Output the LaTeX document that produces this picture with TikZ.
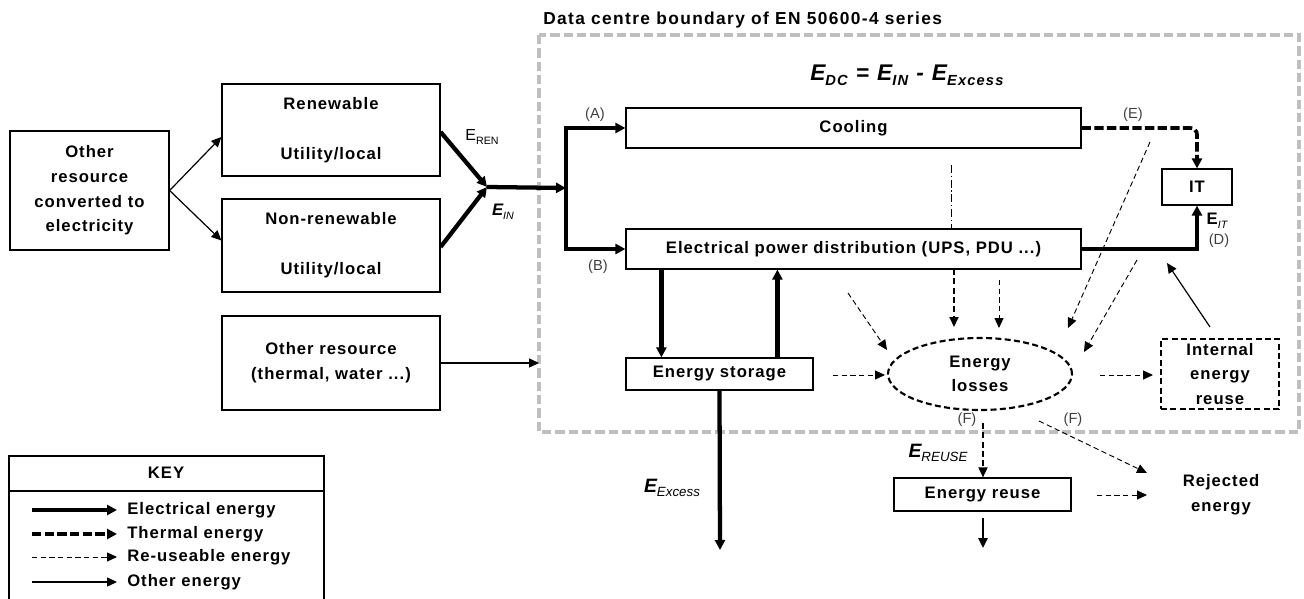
\documentclass[tikz,border=0pt]{standalone}
\usepackage{fontspec}
\setmainfont{Liberation Sans}[LetterSpace=6]
\newfontfamily\plainsans{Liberation Sans}
\newfontfamily\titlesans{Liberation Sans}[LetterSpace=8]
\usetikzlibrary{arrows.meta,calc,shapes.geometric}
\newcommand\lsub[1]{\raisebox{-0.45ex}{\fontsize{8}{9}\selectfont #1}}
\newcommand\msub[1]{\raisebox{-0.45ex}{\fontsize{10}{11}\selectfont #1}}
\newcommand\bsub[1]{\raisebox{-0.45ex}{\fontsize{11}{12}\selectfont #1}}
\begin{document}
\begin{tikzpicture}[x=0.75pt,y=-0.75pt,
  box/.style={draw, line width=0.9pt, inner sep=0pt, font=\fontsize{12.5}{18.5}\selectfont\bfseries, align=center},
  txt/.style={font=\fontsize{12.5}{18.5}\selectfont\bfseries, align=center, inner sep=0pt},
  bigtip/.style={-{Triangle[length=7.5pt,width=7.5pt]}},
  smalltip/.style={-{Triangle[length=7.5pt,width=6.8pt]}},
  elec/.style={line width=3.2pt, bigtip},
  therm/.style={line width=2.8pt, dash pattern=on 7pt off 2.5pt, bigtip},
  reus/.style={line width=0.7pt, dash pattern=on 4pt off 2.5pt, smalltip},
  reusm/.style={line width=1.2pt, dash pattern=on 4.5pt off 2.5pt, smalltip},
  reusl/.style={line width=0.7pt, dash pattern=on 6pt off 2pt on 1pt off 2pt},
  oth/.style={line width=0.9pt, smalltip},
  bnd/.style={draw=black!25, line width=3pt, dash pattern=on 7pt off 3pt},
  lbl/.style={font=\plainsans\fontsize{11}{12}\selectfont, text=black!75, inner sep=0pt},
  dbox/.style={box, line width=1.6pt, dash pattern=on 4.5pt off 2.5pt},
]
\useasboundingbox (0,0) rectangle (1304,599);

% data centre boundary
\draw[bnd] (539,35) rectangle (1299,432);
\node[anchor=west, inner sep=0pt, font=\titlesans\fontsize{13}{14}\selectfont\bfseries] (title) at (543,20) {Data centre boundary of EN 50600-4 series};
\node[anchor=west, inner sep=0pt, font=\titlesans\fontsize{17}{18}\selectfont\bfseries\itshape] (edc) at (810,75) {E\bsub{DC} = E\bsub{IN} - E\bsub{Excess}};

% boxes
\node[box, minimum width=119.25pt, minimum height=89.25pt] (other) at (89.5,190.5) {Other\\resource\\converted to\\electricity};
\node[box, minimum width=163.5pt, minimum height=69pt] (ren) at (331,130) {Renewable\\[19pt]Utility/local};
\node[box, minimum width=163.5pt, minimum height=69.75pt] (nonren) at (331,245.5) {Non-renewable\\[19pt]Utility/local};
\node[box, minimum width=163.5pt, minimum height=70.5pt] (othres) at (331,363) {Other resource\\(thermal, water ...)};
\node[box, minimum width=341.25pt, minimum height=30pt] (cool) at (853.5,128) {Cooling};
\node[box, minimum width=341.25pt, minimum height=30pt] (epd) at (853.5,249) {Electrical power distribution (UPS, PDU ...)};
\node[box, minimum width=52.5pt, minimum height=27pt] (it) at (1197,187) {IT};
\node[box, minimum width=140.25pt, minimum height=24pt] (stor) at (719.5,374) {Energy storage};
\node[dbox, ellipse, minimum width=138pt, minimum height=54pt] (loss) at (980,374) {Energy\\losses};
\node[dbox, minimum width=88.5pt, minimum height=52.5pt] (ier) at (1220,374) {Internal\\energy\\reuse};
\node[box, minimum width=132.75pt, minimum height=24.75pt] (reuse) at (982.5,494.5) {Energy reuse};
\node[txt] (rej) at (1221,495) {Rejected\\energy};

% coordinates
\coordinate (J) at (487,187);
\coordinate (Bp) at (566,188);
\coordinate (bin) at (539,363);
\coordinate (exc) at (720,550);
\coordinate (v1a) at (951,165);
\coordinate (v2a) at (954,269);
\coordinate (v2b) at (954,327);
\coordinate (v3a) at (999,280);
\coordinate (v3b) at (999,328);
\coordinate (d1a) at (1150,142);
\coordinate (d1b) at (1068,328);
\coordinate (d2a) at (1137,260);
\coordinate (d2b) at (1084,352);
\coordinate (o1a) at (1210,327);
\coordinate (o1b) at (1167,263);
\coordinate (d3a) at (848,293);
\coordinate (d3b) at (887,350);
\coordinate (h1a) at (833,375);
\coordinate (h1b) at (885,375);
\coordinate (h2a) at (1100,375);
\coordinate (h2b) at (1153,375);
\coordinate (f1a) at (983,423);
\coordinate (f2a) at (1039,421);
\coordinate (f2b) at (1147,473);
\coordinate (rja) at (1097,495);
\coordinate (rjb) at (1147,495);
\coordinate (rda) at (983,518);
\coordinate (rdb) at (983,548);

% connectors
\draw[oth] (other.east) -- ($(ren.west)+(0,7)$);
\draw[oth] (other.east) -- ($(nonren.west)+(0,-5)$);
\draw[elec] ($(ren.east)+(0,2)$) -- (J);
\draw[elec] ($(nonren.east)+(0,1.5)$) -- (J);
\draw[elec] (J) -- (Bp);
\draw[elec] (Bp) |- (cool.west);
\draw[elec] (Bp) |- (epd.west);
\draw[oth] (othres.east) -- (bin);
\draw[therm, rounded corners=5pt] (cool.east) -| (it.north);
\draw[elec] (epd.east) -| (it.south);
\draw[elec] ($(epd.south west)+(36,0)$) -- ($(stor.north west)+(36,0)$);
\draw[elec] ($(stor.north west)+(152,0)$) -- ($(epd.south west)+(152,0)$);
\draw[elec] (stor.south) -- (exc);
\draw[reusl] (v1a) -- (v1a |- epd.north);
\draw[reusm] (v2a) -- (v2b);
\draw[reus] (v3a) -- (v3b);
\draw[reus] (d1a) -- (d1b);
\draw[reus] (d2a) -- (d2b);
\draw[oth] (o1a) -- (o1b);
\draw[reus] (d3a) -- (d3b);
\draw[reus] (h1a) -- (h1b);
\draw[reus] (h2a) -- (h2b);
\draw[reusm] (f1a) -- (f1a |- reuse.north);
\draw[reus] (f2a) -- (f2b);
\draw[reus] (rja) -- (rjb);
\draw[line width=1.8pt, smalltip] (rda) -- (rdb);

% labels
\node[lbl] (lA) at (595,115) {(A)};
\node[lbl] (lB) at (598,267) {(B)};
\node[lbl] (lE) at (1133,115) {(E)};
\node[lbl] (lD) at (1219,241) {(D)};
\node[lbl] (lF1) at (967,420) {(F)};
\node[lbl] (lF2) at (1073,420) {(F)};
\node[inner sep=0pt, font=\plainsans\fontsize{12}{13}\selectfont] (eren) at (482,137) {E\lsub{REN}};
\node[inner sep=0pt, font=\plainsans\fontsize{12.5}{13}\selectfont\bfseries\itshape] (ein) at (503,212) {E\lsub{\mdseries IN}};
\node[inner sep=0pt, font=\plainsans\fontsize{12.5}{13}\selectfont\bfseries] (eit) at (1217,221) {E\lsub{\mdseries\itshape IT}};
\node[inner sep=0pt, font=\plainsans\fontsize{14.5}{15}\selectfont\bfseries\itshape] (ereuse) at (938,453) {E\msub{\mdseries REUSE}};
\node[inner sep=0pt, font=\plainsans\fontsize{14.5}{15}\selectfont\bfseries\itshape] (eexc) at (672,488) {E\msub{\mdseries Excess}};

% key
\draw[line width=0.9pt] (9,599) -- (9,456) -- (324,456) -- (324,599);
\draw[line width=0.9pt] (9,491) -- (324,491);
\node[txt] (keyt) at (166,473) {KEY};
\node[txt, anchor=west] (k1) at (127,510) {Electrical energy};
\node[txt, anchor=west] (k2) at (127,534) {Thermal energy};
\node[txt, anchor=west] (k3) at (127,557) {Re-useable energy};
\node[txt, anchor=west] (k4) at (127,582) {Other energy};
\draw[elec] ($(k1.west)+(-95,0)$) -- ($(k1.west)+(-10,0)$);
\draw[therm] ($(k2.west)+(-95,0)$) -- ($(k2.west)+(-10,0)$);
\draw[reus] ($(k3.west)+(-95,0)$) -- ($(k3.west)+(-10,0)$);
\draw[oth] ($(k4.west)+(-95,0)$) -- ($(k4.west)+(-10,0)$);
\end{tikzpicture}
\end{document}
